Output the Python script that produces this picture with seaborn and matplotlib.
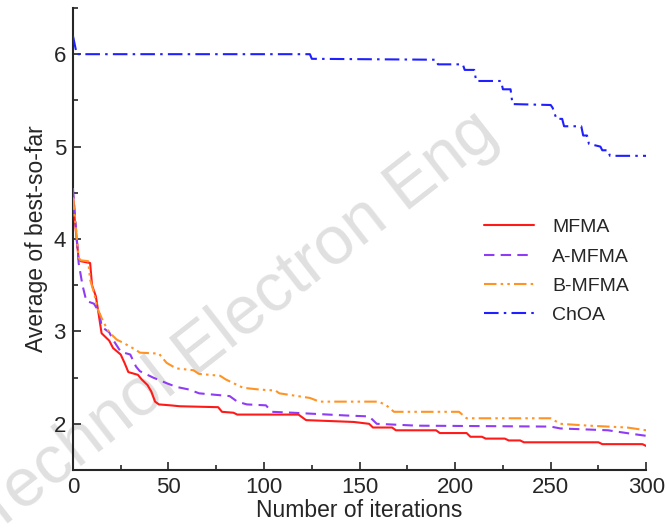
import pandas as pd
import seaborn as sns
import matplotlib.pyplot as plt

# (iteration, average best-so-far) points
mfma_it = [0, 1, 3, 4, 9, 10, 12, 13, 15, 19, 21, 25, 27, 29, 34, 36, 39, 41, 43, 45, 51, 56, 76, 78,
           84, 86, 118, 122, 147, 155, 157, 167, 169, 190, 192, 206, 208, 214, 216, 226, 228, 234, 236,
           275, 277, 298, 300]
mfma_val = [4.5, 4.2, 3.78, 3.76, 3.74, 3.5, 3.38, 3.25, 2.98, 2.9, 2.82, 2.75, 2.66, 2.56, 2.53, 2.48, 2.42,
            2.35, 2.24, 2.21, 2.2, 2.19, 2.18, 2.13, 2.12, 2.1, 2.1, 2.04, 2.02, 2.0, 1.96, 1.96, 1.93, 1.93,
            1.9, 1.9, 1.86, 1.86, 1.84, 1.84, 1.82, 1.82, 1.8, 1.8, 1.78, 1.78, 1.76]

amfma_it = [0, 1, 3, 5, 7, 11, 14, 15, 19, 21, 25, 30, 33, 35, 42, 49, 54, 61, 66, 82, 86, 91, 101,
            104, 115, 143, 155, 159, 180, 250, 255, 280, 293, 300]
amfma_val = [4.55, 4.28, 3.74, 3.5, 3.33, 3.3, 3.2, 3.05, 2.99, 2.91, 2.78, 2.75, 2.62, 2.57, 2.5, 2.44,
             2.4, 2.37, 2.33, 2.3, 2.24, 2.21, 2.2, 2.13, 2.12, 2.09, 2.08, 2.0, 1.98, 1.97, 1.95, 1.93,
             1.89, 1.87]

bmfma_it = [0, 1, 3, 4, 8, 9, 11, 13, 16, 19, 23, 26, 33, 35, 45, 49, 54, 63, 66, 77, 80, 89, 98, 106,
            108, 124, 129, 160, 164, 168, 202, 206, 250, 255, 270, 290, 300]
bmfma_val = [4.45, 4.23, 3.8, 3.77, 3.76, 3.56, 3.42, 3.24, 3.1, 2.99, 2.91, 2.88, 2.8, 2.77, 2.76, 2.66,
             2.6, 2.58, 2.54, 2.52, 2.48, 2.39, 2.37, 2.36, 2.33, 2.28, 2.24, 2.24, 2.2, 2.13, 2.13, 2.06,
             2.06, 2.0, 1.98, 1.96, 1.93]

choa_it = [0, 2, 124, 125, 190, 191, 204, 205, 210, 211, 224, 225, 229, 230, 250, 251, 253, 256, 257,
           266, 267, 269, 270, 276, 277, 280, 281, 300]
choa_val = [6.2, 6.0, 6.0, 5.95, 5.94, 5.89, 5.89, 5.83, 5.83, 5.71, 5.71, 5.62, 5.62, 5.46, 5.45, 5.42,
            5.30, 5.30, 5.22, 5.22, 5.12, 5.12, 5.03, 5.0, 4.96, 4.96, 4.9, 4.9]

series = [
    ("MFMA", mfma_it, mfma_val, "#ff1a1a", "-"),
    ("A-MFMA", amfma_it, amfma_val, "#8f3cf5", (0, (5, 3))),
    ("B-MFMA", bmfma_it, bmfma_val, "#ff9426", (0, (6, 2, 1.2, 2, 1.2, 2))),
    ("ChOA", choa_it, choa_val, "#1f1fff", (0, (7, 2.5, 1.2, 2.5))),
]

sns.set_style("ticks")
plt.rcParams['font.family'] = ['Liberation Sans', 'DejaVu Sans']

fig = plt.figure(figsize=(6.69, 5.32), dpi=100)
ax = fig.add_axes([0.109, 0.1165, 0.857, 0.8685])

# journal watermark, drawn inside the axes so it stays behind the curves
ax.text(-0.055, -0.025, "Technol Electron Eng", rotation=38, fontsize=49, color="#e0e0e0",
        ha="left", va="bottom", zorder=0.5, transform=fig.transFigure, clip_on=False)

for name, it, val, color, ls in series:
    df = pd.DataFrame({"iteration": it, "value": val})
    sns.lineplot(data=df, x="iteration", y="value", ax=ax, color=color, linestyle=ls,
                 linewidth=1.5, label=name, estimator=None, sort=False, zorder=3)

ax.set_xlim(0, 300)
ax.set_ylim(1.5, 6.5)
ax.set_xticks([0, 50, 100, 150, 200, 250, 300])
ax.set_xticks([25, 75, 125, 175, 225, 275], minor=True)
ax.set_yticks([2, 3, 4, 5, 6])
ax.set_yticks([1.5, 2.5, 3.5, 4.5, 5.5, 6.5], minor=True)
ax.tick_params(which="major", direction="in", length=6, width=1.2, labelsize=16, pad=5)
ax.tick_params(which="minor", direction="in", length=3.5, width=1.2)
sns.despine(ax=ax)
for s in ["left", "bottom"]:
    ax.spines[s].set_linewidth(1.5)

ax.set_xlabel("Number of iterations", fontsize=16.5, labelpad=1)
ax.set_ylabel("Average of best-so-far", fontsize=16.5, labelpad=4)

ax.legend(loc="upper right", bbox_to_anchor=(1.0, 0.582), frameon=False, fontsize=14,
          handlelength=2.6, labelspacing=0.6, handletextpad=0.9)

fig.savefig("out.png", dpi=100)
